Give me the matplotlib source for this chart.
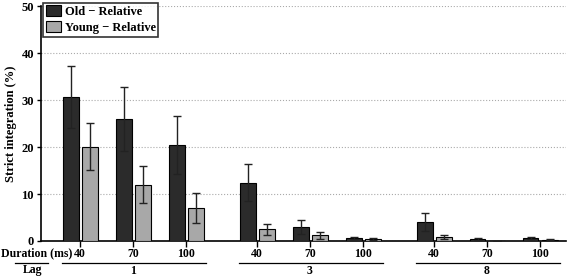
import numpy as np
import matplotlib.pyplot as plt
import matplotlib.transforms as mtransforms

# data
lags = ["1", "3", "8"]
durations = ["40", "70", "100"]
old_mean = [[30.7, 26.0, 20.5], [12.4, 3.0, 0.6], [4.0, 0.4, 0.7]]
old_err = [[6.6, 6.8, 6.2], [3.9, 1.5, 0.25], [1.9, 0.15, 0.25]]
young_mean = [[20.1, 12.0, 7.0], [2.5, 1.2, 0.4], [0.85, 0.0, 0.3]]
young_err = [[5.0, 4.0, 3.2], [1.2, 0.7, 0.15], [0.4, 0.0, 0.1]]

plt.rcParams['font.family'] = ['Liberation Serif', 'DejaVu Serif']
plt.rcParams['font.weight'] = 'bold'

fig = plt.figure(figsize=(5.68, 2.77), dpi=100)
ax = fig.add_axes([0.072, 0.130, 0.924, 0.848])

gap = 3.34
pos = np.array([[i * gap + j for j in range(3)] for i in range(3)])
w = 0.29
ekw = dict(ecolor='#222222', elinewidth=1.0, capsize=3, capthick=1.0)

x = pos.flatten()
ax.bar(x - 0.17, np.ravel(old_mean), w, yerr=np.ravel(old_err),
       color='#2b2b2b', edgecolor='black', linewidth=0.8,
       error_kw=ekw, label='Old \u2212 Relative', zorder=3)
ax.bar(x + 0.19, np.ravel(young_mean), w, yerr=np.ravel(young_err),
       color='#a8a8a8', edgecolor='black', linewidth=0.8,
       error_kw=ekw, label='Young \u2212 Relative', zorder=3)

ax.set_ylim(0, 50)
ax.set_xlim(-0.74, 9.17)
ax.set_yticks([0, 10, 20, 30, 40, 50])
ax.tick_params(axis='y', labelsize=9, length=3, width=1, pad=2)
ax.set_xticks(x)
ax.set_xticklabels(durations * 3, fontsize=8.5, fontweight='bold')
ax.tick_params(axis='x', length=4, width=1, pad=1)
ax.yaxis.grid(True, linestyle=':', color='#aaaaaa', linewidth=0.8, zorder=0)
ax.set_axisbelow(True)
for s in ['top', 'right']:
    ax.spines[s].set_visible(False)
for s in ['left', 'bottom']:
    ax.spines[s].set_linewidth(1.2)
ax.set_ylabel('Strict integration (%)', fontsize=9, fontweight='bold', labelpad=3)

trans = mtransforms.blended_transform_factory(ax.transData, ax.transAxes)
for i, lag in enumerate(lags):
    x0, x1 = pos[i][0] - 0.34, pos[i][2] + 0.38
    ax.plot([x0, x1], [-0.094, -0.094], color='black', lw=0.9,
            transform=trans, clip_on=False)
    ax.text(pos[i][1], -0.128, lag, transform=trans, ha='center', va='center',
            fontsize=8.5, fontweight='bold')

fig.text(0.002, 0.085, 'Duration (ms)', ha='left', va='center',
         fontsize=8.5, fontweight='bold')
fig.lines.append(plt.Line2D([0.026, 0.085], [0.051, 0.051], color='black',
                            lw=0.9, transform=fig.transFigure))
fig.text(0.058, 0.025, 'Lag', ha='center', va='center',
         fontsize=8.5, fontweight='bold')

leg = ax.legend(loc='upper left', bbox_to_anchor=(0.0, 1.025), fontsize=9,
                frameon=True, fancybox=False, edgecolor='black',
                handlelength=1.2, handleheight=1.0, handletextpad=0.3,
                borderpad=0.2, labelspacing=0.25, borderaxespad=0.2)
leg.get_frame().set_linewidth(1.2)
for t in leg.get_texts():
    t.set_fontweight('bold')

fig.savefig('out.png', dpi=100)
